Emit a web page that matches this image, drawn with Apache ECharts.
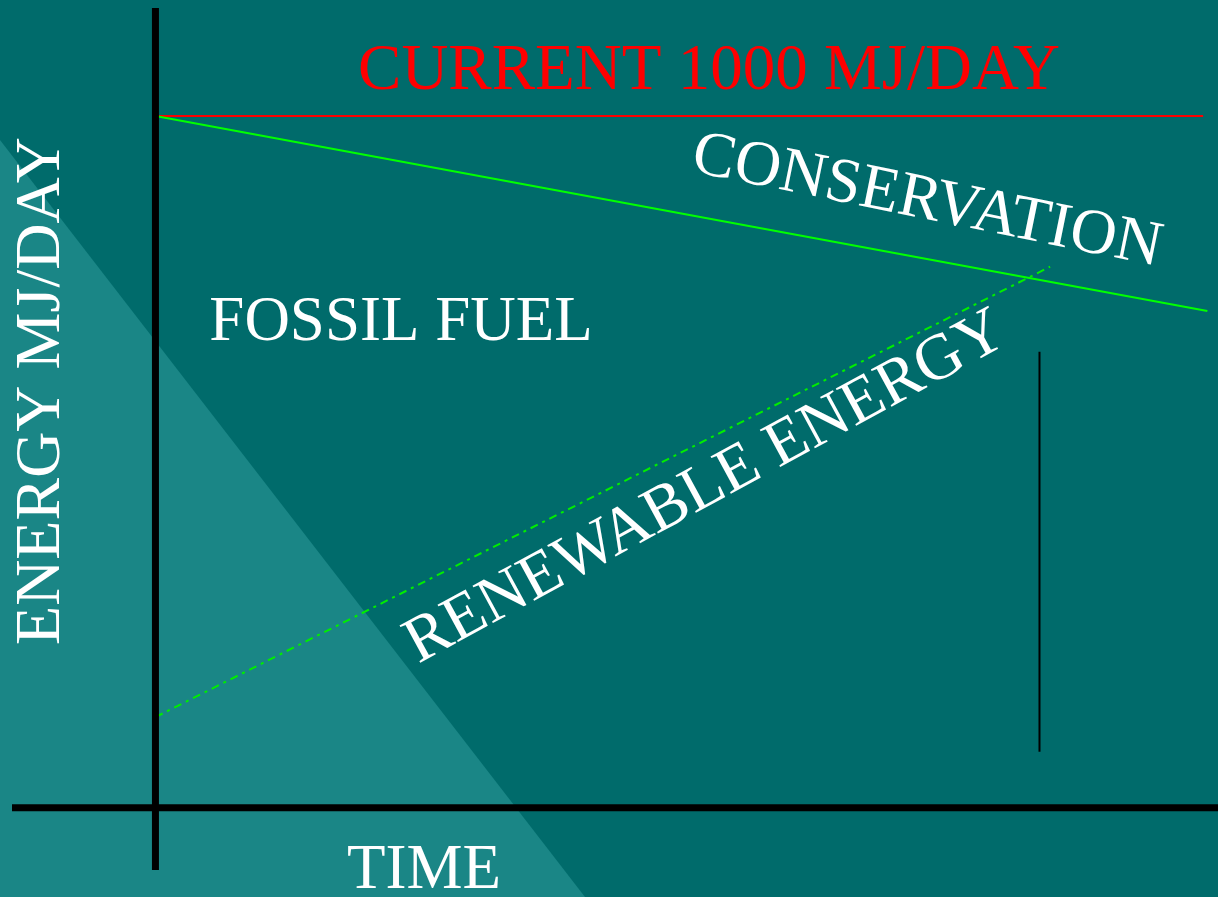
<!DOCTYPE html>
<html>
<head>
<meta charset="utf-8">
<script src="https://cdn.jsdelivr.net/npm/echarts@6/dist/echarts.min.js"></script>
<style>
  html, body { margin: 0; padding: 0; background: #006b6b; }
  #chart { width: 1218px; height: 897px; }
</style>
</head>
<body>
<div id="chart"></div>
<script>
// time runs 0..100, energy in MJ/day
const axisV = [[0, -90], [0, 1156]]
const axisH = [[-13.5, 0], [100, 0]]
const current = [[0, 1000], [98.6, 1000]]
const conservation = [[0, 1000], [99, 718]]
const renewable = [[0, 131], [84.2, 782]]
const marker = [[83.2, 659], [83.2, 81]]

const serif = '"Liberation Serif", "DejaVu Serif", serif'

const chart = echarts.init(document.getElementById('chart'))

const lineSeries = (name, data, color, width, type) => ({
  name,
  type: 'line',
  data,
  symbol: 'none',
  silent: true,
  animation: false,
  lineStyle: { color, width, type: type || 'solid' }
})

const textItem = (text, x, y, size, deg, fill) => ({
  type: 'text',
  x, y,
  rotation: deg * Math.PI / 180,
  style: {
    text, fill: fill || '#ffffff',
    font: size + 'px ' + serif, align: 'center', verticalAlign: 'middle'
  }
})

const option = {
  backgroundColor: '#006b6b',
  animation: false,
  grid: { left: 12, right: 0, top: 8, bottom: 27 },
  xAxis: { type: 'value', min: -13.5, max: 100, show: false },
  yAxis: { type: 'value', min: -90, max: 1156, show: false },
  graphic: [
    {
      type: 'polygon',
      z: -10,
      shape: { points: [[0, 140], [585, 897], [0, 897]] },
      style: { fill: '#1a8686' }
    },
    textItem('CURRENT 1000 MJ/DAY', 709, 72, 65, 0, '#ff0000'),
    textItem('FOSSIL FUEL', 401, 323, 63, 0),
    textItem('CONSERVATION', 927, 202, 64, -11.5),
    textItem('RENEWABLE ENERGY', 706, 488, 65, 28.5),
    textItem('ENERGY MJ/DAY', 42, 391, 64, 90),
    textItem('TIME', 424, 871, 63, 0)
  ],
  series: [
    lineSeries('current', current, '#ff0000', 2),
    lineSeries('conservation', conservation, '#00ff00', 2),
    lineSeries('renewable', renewable, '#00ee00', 2, [8, 5, 3, 5]),
    lineSeries('marker', marker, '#000000', 2),
    lineSeries('axisV', axisV, '#000000', 7),
    lineSeries('axisH', axisH, '#000000', 7)
  ]
}

chart.setOption(option)
</script>
</body>
</html>
